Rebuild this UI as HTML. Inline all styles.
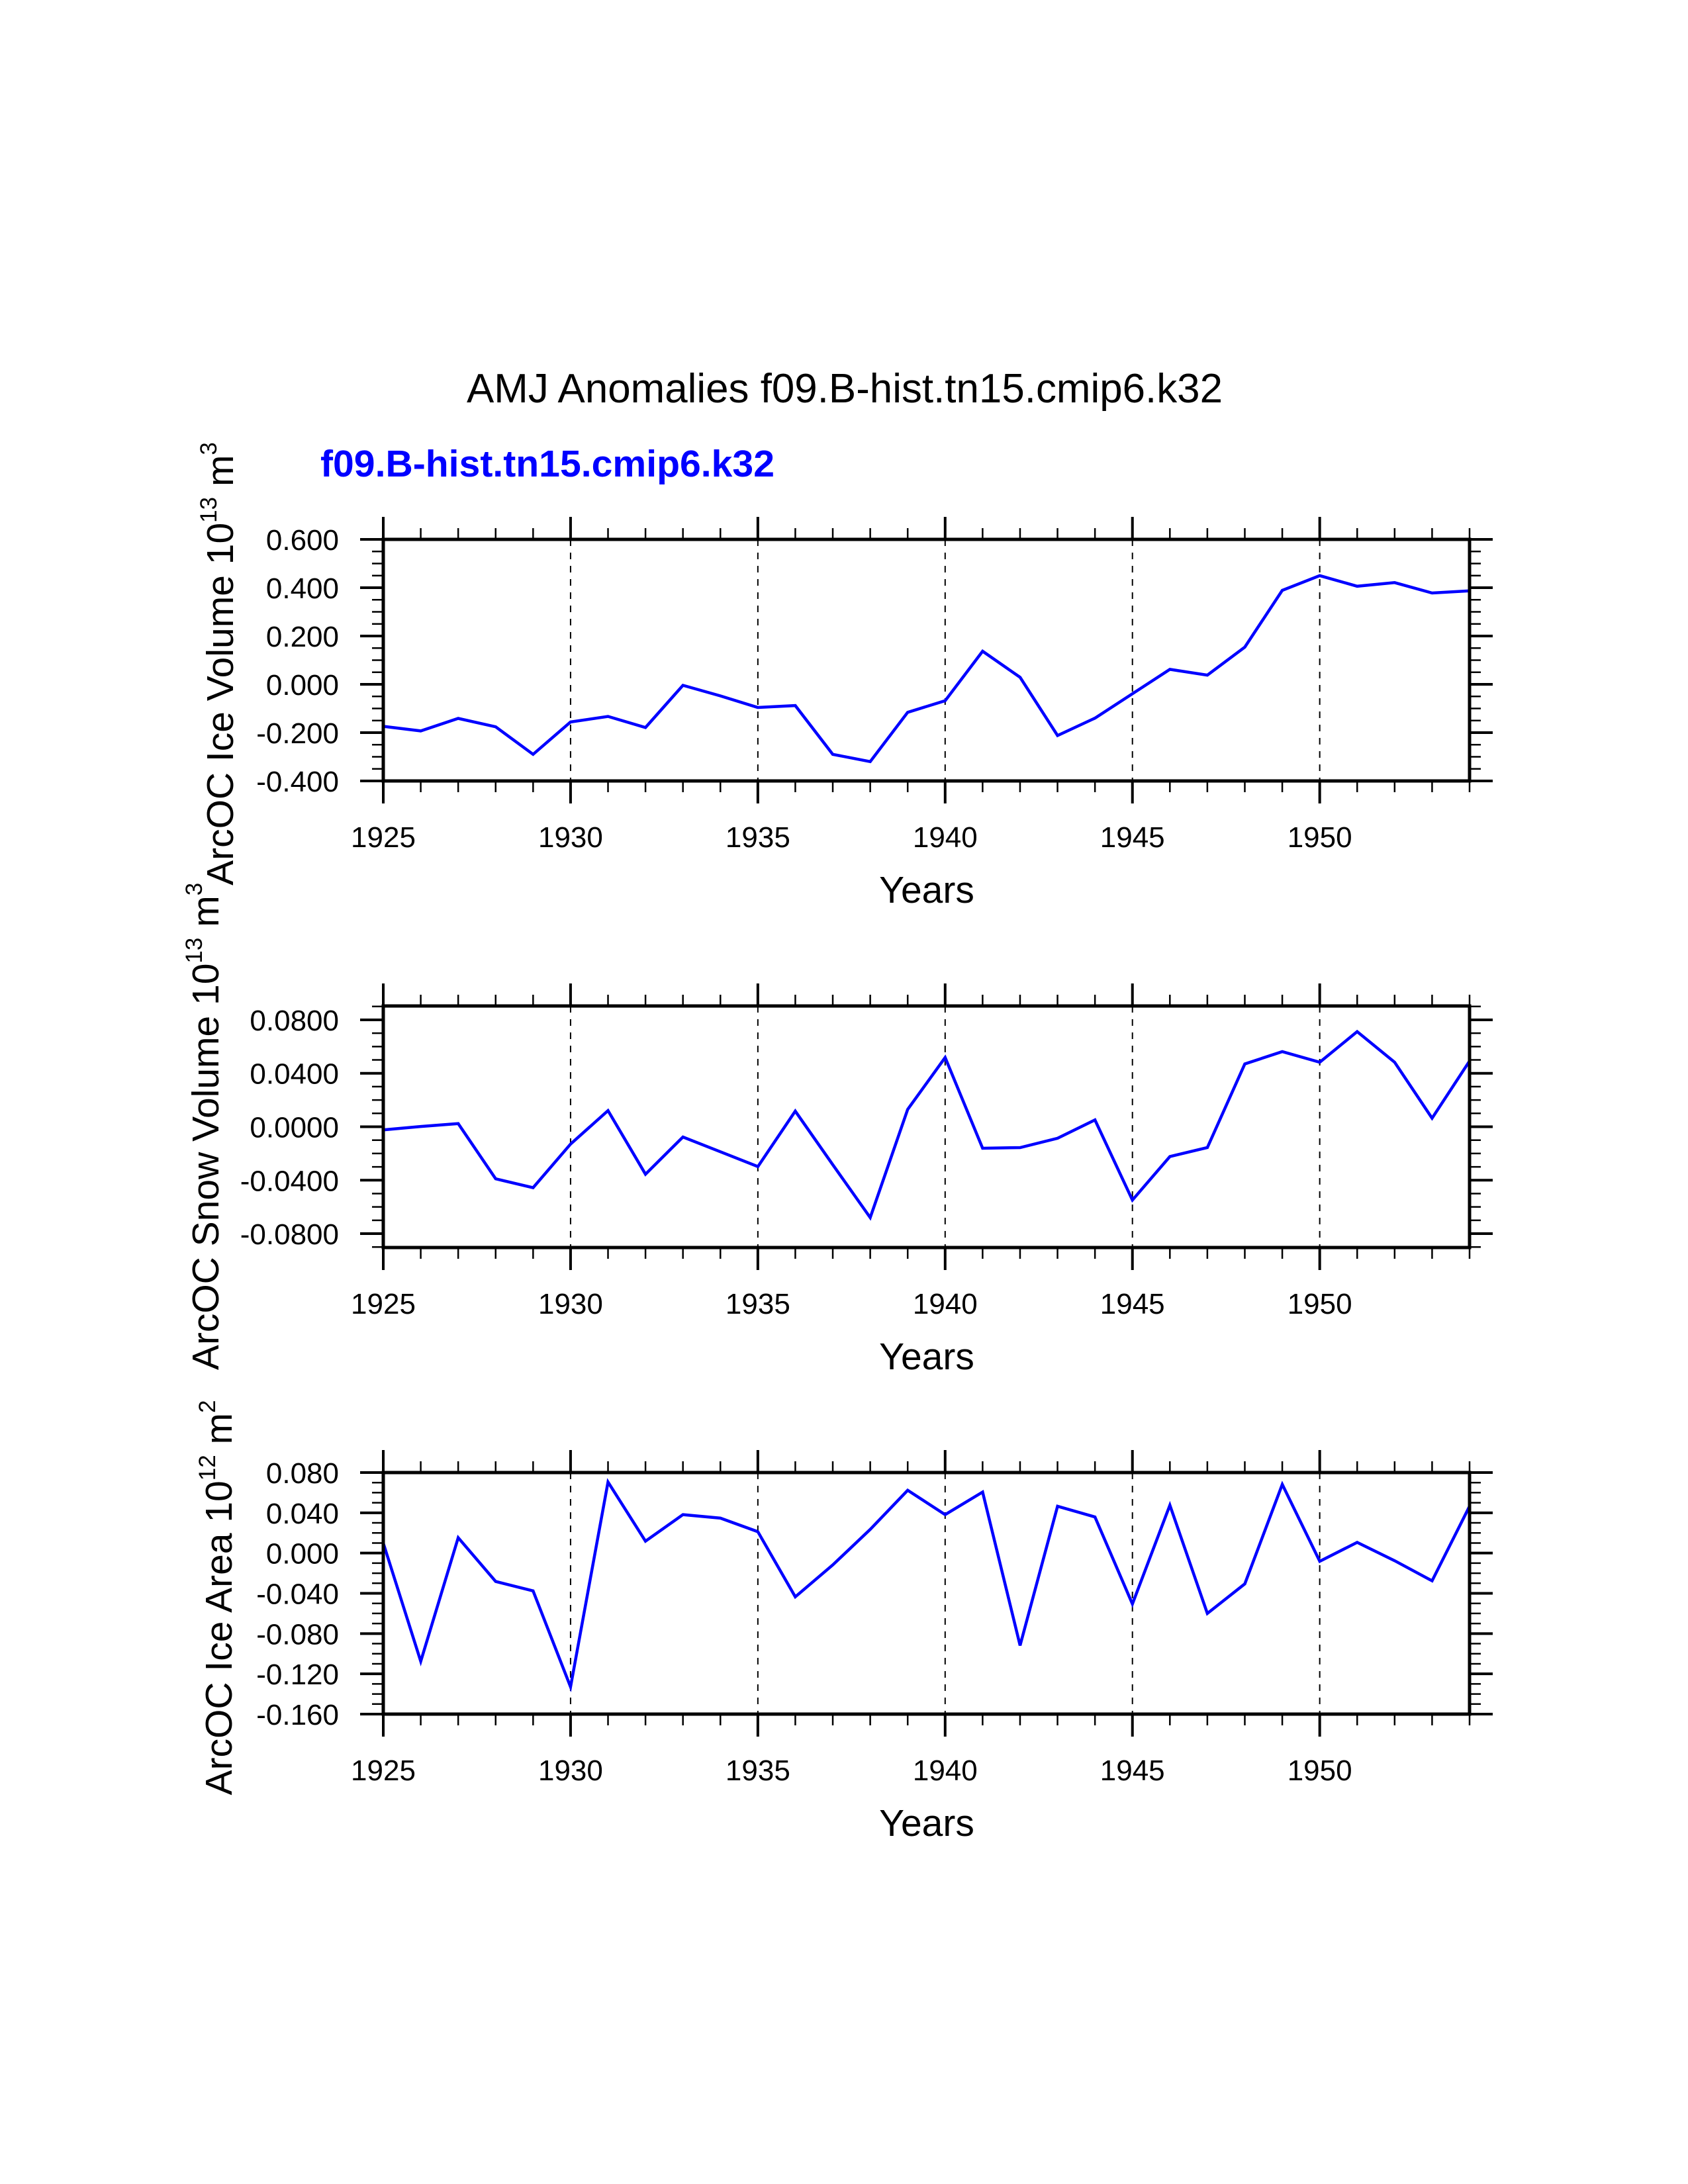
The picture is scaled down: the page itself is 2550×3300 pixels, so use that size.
<!DOCTYPE html>
<html><head><meta charset="utf-8"><style>
html,body{margin:0;padding:0;background:#fff;}
svg{display:block;font-family:"Liberation Sans",Arial,sans-serif;}
</style></head><body>
<svg id="chart" width="2550" height="3300" viewBox="0 0 2550 3300" xmlns="http://www.w3.org/2000/svg">
<rect width="2550" height="3300" fill="#fff"/>
<text x="1276" y="608" font-size="62" text-anchor="middle" textLength="1142" lengthAdjust="spacingAndGlyphs">AMJ Anomalies f09.B-hist.tn15.cmip6.k32</text>
<text x="484" y="720" font-size="57" font-weight="bold" fill="#0000ff" textLength="686" lengthAdjust="spacingAndGlyphs">f09.B-hist.tn15.cmip6.k32</text>
</svg>
<script>
const years = [1925,1926,1927,1928,1929,1930,1931,1932,1933,1934,1935,1936,1937,1938,1939,1940,1941,1942,1943,1944,1945,1946,1947,1948,1949,1950,1951,1952,1953,1954];
const iceVolume = [-0.174,-0.193,-0.141,-0.176,-0.290,-0.156,-0.133,-0.179,-0.004,-0.048,-0.096,-0.088,-0.290,-0.320,-0.116,-0.068,0.137,0.029,-0.212,-0.140,-0.039,0.062,0.038,0.154,0.389,0.450,0.406,0.421,0.378,0.387];
const snowVolume = [-0.0024,0.0002,0.0024,-0.0390,-0.0456,-0.0130,0.0121,-0.0355,-0.0077,-0.0187,-0.0298,0.0117,-0.0284,-0.0680,0.0130,0.0518,-0.0161,-0.0156,-0.0086,0.0051,-0.0549,-0.0223,-0.0156,0.0470,0.0562,0.0483,0.0712,0.0483,0.0064,0.0492];
const iceArea = [0.010,-0.1076,0.0153,-0.0282,-0.0376,-0.133,0.0706,0.0118,0.0382,0.0347,0.0212,-0.0435,-0.0118,0.0235,0.0624,0.0382,0.0606,-0.0918,0.0465,0.0359,-0.0506,0.0476,-0.060,-0.0306,0.0682,-0.0082,0.0106,-0.0076,-0.0276,0.0465];
const yearTicks = [1925,1930,1935,1940,1945,1950];
const iceVolTicks = ["0.600","0.400","0.200","0.000","-0.200","-0.400"];
const snowTicks = ["0.0800","0.0400","0.0000","-0.0400","-0.0800"];
const areaTicks = ["0.080","0.040","0.000","-0.040","-0.080","-0.120","-0.160"];

const NS="http://www.w3.org/2000/svg";
const svg=document.getElementById('chart');
function mk(tag,attrs,parent){const e=document.createElementNS(NS,tag);for(const k in attrs)e.setAttribute(k,attrs[k]);(parent||svg).appendChild(e);return e;}

const X0=579,X1=2220,Y_MIN=1925,Y_MAX=1954;
function xs(yr){return X0+(yr-Y_MIN)/(Y_MAX-Y_MIN)*(X1-X0);}

function panel(cfg){
  const g=mk('g',{});
  
  
  const top=cfg.top,bot=cfg.bot;
  const ys=v=>top+(cfg.vmax-v)/(cfg.vmax-cfg.vmin)*(bot-top);
  for(const yr of yearTicks){ if(yr===Y_MIN) continue;
    const l=mk('line',{x1:xs(yr),x2:xs(yr),y1:top,y2:bot,stroke:'#000','stroke-width':2,'stroke-dasharray':'10,10'},g);
    
    
  }
  for(let yr=Y_MIN;yr<=Y_MAX;yr++){
    const major=yr%5===0;const len=major?34:17;const w=major?4:2.5;
    mk('line',{x1:xs(yr),x2:xs(yr),y1:top,y2:top-len,stroke:'#000','stroke-width':w},g);
    mk('line',{x1:xs(yr),x2:xs(yr),y1:bot,y2:bot+len,stroke:'#000','stroke-width':w},g);
  }
  for(const yr of yearTicks){
    const t=mk('text',{x:xs(yr),y:bot+100,'font-size':44,'text-anchor':'middle'},g);
    t.textContent=yr;
    
    
  }
  const n=Math.round((cfg.vmax-cfg.vmin)/cfg.minor);
  for(let i=-2;i<=n+2;i++){
    const v=cfg.vstart-i*cfg.minor;
    const y=ys(v); if(y<top-0.5||y>bot+0.5) continue;
    const k=Math.round((cfg.vstart-v)/cfg.minor);
    const major=k%cfg.per===0;const len=major?35:17;const w=major?4:2.5;
    mk('line',{x1:X0,x2:X0-len,y1:y,y2:y,stroke:'#000','stroke-width':w},g);
    mk('line',{x1:X1,x2:X1+len,y1:y,y2:y,stroke:'#000','stroke-width':w},g);
  }
  cfg.labels.forEach((lab)=>{
    const v=parseFloat(lab);
    const t=mk('text',{x:512,y:ys(v)+16,'font-size':44,'text-anchor':'end'},g);
    t.textContent=lab;
    
    
  });
  const pts=cfg.data.map((v,i)=>xs(years[i]).toFixed(1)+','+ys(v).toFixed(1)).join(' ');
  const pl=mk('polyline',{points:pts,fill:'none',stroke:'#0000ff','stroke-width':4.5,'stroke-linejoin':'miter'},g);
  
  
  const fr=mk('rect',{x:X0,y:top,width:X1-X0,height:bot-top,fill:'none',stroke:'#000','stroke-width':5},g);
  
  
  const xt=mk('text',{x:1400,y:bot+184,'font-size':57,'text-anchor':'middle'},g);
  xt.textContent='Years';
  
  
  const yt=mk('text',{x:0,y:0,'font-size':57,'text-anchor':'middle',transform:`translate(${cfg.titleX},${cfg.titleCy}) rotate(-90)`},g);
  
  
  yt.appendChild(document.createTextNode(cfg.title+' 10'));
  const s1=mk('tspan',{'font-size':35,dy:-25},yt);s1.textContent=cfg.exp1;
  const s2=mk('tspan',{dy:25},yt);s2.textContent=' m';
  const s3=mk('tspan',{'font-size':35,dy:-25},yt);s3.textContent=cfg.exp2;
}

panel({name:'ice-volume-panel',top:815,bot:1180,vmax:0.6,vmin:-0.4,vstart:0.6,minor:0.05,per:4,labels:iceVolTicks,data:iceVolume,title:'ArcOC Ice Volume',exp1:'13',exp2:'3',titleX:352,titleCy:1003});
panel({name:'snow-volume-panel',top:1520,bot:1885,vmax:0.0904,vmin:-0.0904,vstart:0.08,minor:0.01,per:4,labels:snowTicks,data:snowVolume,title:'ArcOC Snow Volume',exp1:'13',exp2:'3',titleX:330,titleCy:1702});
panel({name:'ice-area-panel',top:2225,bot:2590,vmax:0.08,vmin:-0.16,vstart:0.08,minor:0.01,per:4,labels:areaTicks,data:iceArea,title:'ArcOC Ice Area',exp1:'12',exp2:'2',titleX:350,titleCy:2414});
</script>
</body></html>
